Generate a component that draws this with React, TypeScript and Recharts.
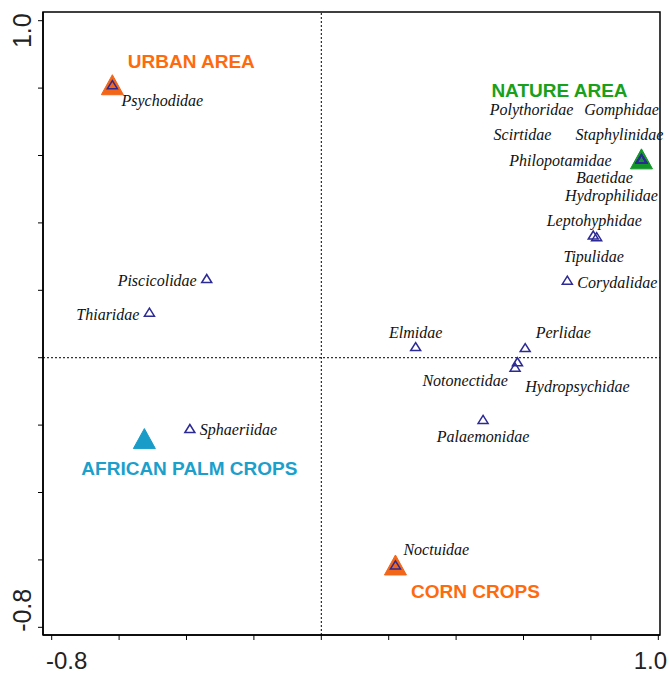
import { ScatterChart, Scatter, XAxis, YAxis, ReferenceLine, ReferenceArea } from "recharts";

// sites (big triangles)
const siteNames = ["URBAN AREA", "NATURE AREA", "AFRICAN PALM CROPS", "CORN CROPS"];
const siteX = [-0.62, 0.95, -0.525, 0.22];
const siteY = [0.81, 0.59, -0.24, -0.615];

// families (small open triangles)
const speciesNames = [
  "Psychodidae", "Polythoridae", "Gomphidae", "Scirtidae", "Staphylinidae",
  "Philopotamidae", "Baetidae", "Hydrophilidae", "Leptohyphidae", "Tipulidae",
  "Corydalidae", "Piscicolidae", "Thiaridae", "Elmidae", "Perlidae",
  "Notonectidae", "Hydropsychidae", "Palaemonidae", "Sphaeriidae", "Noctuidae",
];
const speciesX = [
  -0.62, 0.95, 0.95, 0.95, 0.95,
  0.95, 0.95, 0.95, 0.807, 0.817,
  0.73, -0.34, -0.51, 0.28, 0.605,
  0.575, 0.582, 0.48, -0.39, 0.22,
];
const speciesY = [
  0.81, 0.59, 0.59, 0.59, 0.59,
  0.59, 0.59, 0.59, 0.364, 0.359,
  0.23, 0.235, 0.135, 0.033, 0.03,
  -0.028, -0.012, -0.183, -0.21, -0.615,
];

const axisTicks = [-0.8, -0.6, -0.4, -0.2, 0, 0.2, 0.4, 0.6, 0.8, 1.0];
const labeledTicks = [-0.8, 1.0];

const sites = siteNames.map((name, i) => ({ name, x: siteX[i], y: siteY[i] }));
const species = speciesNames.map((name, i) => ({ name, x: speciesX[i], y: speciesY[i] }));

// styling / label placement
const siteColor: Record<string, [string, string]> = {
  "URBAN AREA": ["#f2661a", "#ff6a0d"],
  "NATURE AREA": ["#12962a", "#1aa01a"],
  "AFRICAN PALM CROPS": ["#1a9cc8", "#1ba0cc"],
  "CORN CROPS": ["#f2661a", "#ff6a0d"],
};
const siteLabel: Record<string, [number, number]> = {
  "URBAN AREA": [79, -17],
  "NATURE AREA": [-82, -62],
  "AFRICAN PALM CROPS": [45, 36],
  "CORN CROPS": [80, 33],
};
type Anchor = "start" | "middle" | "end";
const speciesLabel: Record<string, [number, number, Anchor]> = {
  Psychodidae: [50, 21, "middle"],
  Polythoridae: [-110, -44, "middle"],
  Gomphidae: [-20, -44, "middle"],
  Scirtidae: [-119, -19, "middle"],
  Staphylinidae: [-22, -19, "middle"],
  Philopotamidae: [-81, 7, "middle"],
  Baetidae: [-37, 24, "middle"],
  Hydrophilidae: [-30, 42, "middle"],
  Leptohyphidae: [1, -9, "middle"],
  Tipulidae: [-3, 25, "middle"],
  Corydalidae: [10, 8, "start"],
  Piscicolidae: [-10, 7, "end"],
  Thiaridae: [-10, 8, "end"],
  Elmidae: [0, -9, "middle"],
  Perlidae: [38, -10, "middle"],
  Notonectidae: [-50, 19, "middle"],
  Hydropsychidae: [60, 30, "middle"],
  Palaemonidae: [0, 23, "middle"],
  Sphaeriidae: [10, 7, "start"],
  Noctuidae: [8, -10, "start"],
};

const tri = (cx: number, cy: number, w: number, h: number) =>
  `M${cx},${cy - h / 2} L${cx + w / 2},${cy + h / 2} L${cx - w / 2},${cy + h / 2} Z`;

const SiteShape = (props: any) => {
  const { cx, cy, payload } = props;
  const [fill, text] = siteColor[payload.name];
  const [dx, dy] = siteLabel[payload.name];
  return (
    <g>
      <path d={tri(cx, cy, 22, 20)} fill={fill} stroke={fill} strokeWidth={1} strokeLinejoin="round" />
      <text
        x={cx + dx}
        y={cy + dy}
        textAnchor="middle"
        fill={text}
        fontFamily="'Liberation Sans', Arial, sans-serif"
        fontWeight="bold"
        fontSize={19}
      >
        {payload.name}
      </text>
    </g>
  );
};

const SpeciesShape = (props: any) => {
  const { cx, cy, payload } = props;
  const [dx, dy, anchor] = speciesLabel[payload.name];
  return (
    <g>
      <path d={tri(cx, cy, 10, 8)} fill="none" stroke="#2c2a94" strokeWidth={1.5} />
      <text
        x={cx + dx}
        y={cy + dy}
        textAnchor={anchor}
        fill="#111"
        fontFamily="'Liberation Serif', 'Times New Roman', serif"
        fontStyle="italic"
        fontSize={16}
      >
        {payload.name}
      </text>
    </g>
  );
};

const XTick = (props: any) => {
  const { x, payload } = props;
  if (!labeledTicks.includes(payload.value)) return null;
  const shift = payload.value < 0 ? 15 : -8;
  return (
    <text
      x={x + shift}
      y={660}
      textAnchor="middle"
      dominantBaseline="central"
      fontFamily="'Liberation Sans', Arial, sans-serif"
      fontSize={24}
      fill="#222"
    >
      {payload.value.toFixed(1)}
    </text>
  );
};

const YTick = (props: any) => {
  const { y, payload } = props;
  if (!labeledTicks.includes(payload.value)) return null;
  const shift = payload.value < 0 ? -17 : 10;
  const cy = y + shift;
  return (
    <text
      x={22}
      y={cy}
      transform={`rotate(-90 22 ${cy})`}
      textAnchor="middle"
      dominantBaseline="central"
      fontFamily="'Liberation Sans', Arial, sans-serif"
      fontSize={25}
      fill="#222"
    >
      {payload.value.toFixed(1)}
    </text>
  );
};

const xDomain: [number, number] = [-0.8258, 1.005];
const yDomain: [number, number] = [-0.8228, 1.0258];

export default function App() {
  return (
    <div style={{ position: "absolute", left: 0, top: 0, background: "#fff" }}>
      <ScatterChart width={670} height={675} margin={{ top: 12, right: 10, bottom: 0, left: 0 }}>
        <XAxis
          type="number"
          dataKey="x"
          domain={xDomain}
          ticks={axisTicks}
          height={40}
          tickSize={5}
          axisLine={{ stroke: "#000", strokeWidth: 1.5 }}
          tickLine={{ stroke: "#000", strokeWidth: 1 }}
          tick={<XTick />}
        />
        <YAxis
          type="number"
          dataKey="y"
          domain={yDomain}
          ticks={axisTicks}
          width={43}
          tickSize={5}
          axisLine={{ stroke: "#000", strokeWidth: 1.5 }}
          tickLine={{ stroke: "#000", strokeWidth: 1 }}
          tick={<YTick />}
        />
        <ReferenceArea
          x1={xDomain[0]}
          x2={xDomain[1]}
          y1={yDomain[0]}
          y2={yDomain[1]}
          fill="none"
          stroke="#000"
          strokeWidth={1.5}
        />
        <ReferenceLine x={0} stroke="#000" strokeWidth={1} strokeDasharray="2 2" />
        <ReferenceLine y={0} stroke="#000" strokeWidth={1} strokeDasharray="2 2" />
        <Scatter data={sites} shape={<SiteShape />} isAnimationActive={false} />
        <Scatter data={species} shape={<SpeciesShape />} isAnimationActive={false} />
      </ScatterChart>
    </div>
  );
}
